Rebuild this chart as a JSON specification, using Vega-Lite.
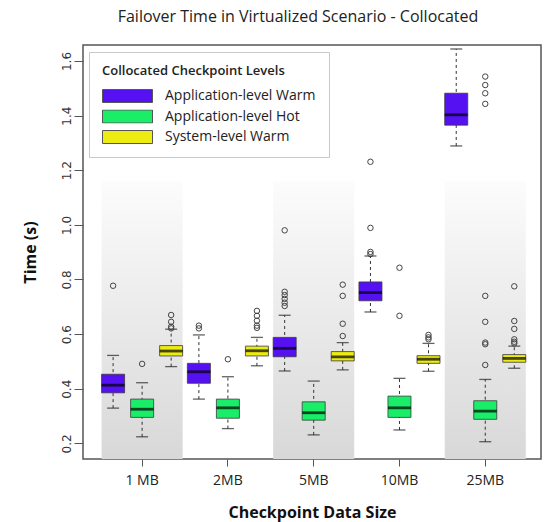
{
  "$schema": "https://vega.github.io/schema/vega-lite/v6.json",
  "width": 458,
  "height": 414,
  "autosize": {"type": "none"},
  "padding": {"left": 83, "top": 45, "right": 5, "bottom": 63},
  "title": {"text": "Failover Time in Virtualized Scenario - Collocated", "font": "Open Sans", "fontSize": 16, "fontWeight": 500, "color": "#222", "anchor": "middle", "dx": -14, "offset": 7, "baseline": "alphabetic"},
  "datasets": {
    "bands": [{"size": "1 MB"}, {"size": "5MB"}, {"size": "25MB"}],
    "stats": [
      {"size": "1 MB", "level": "Application-level Warm", "lo": 0.329, "q1": 0.385, "med": 0.413, "q3": 0.453, "hi": 0.522},
      {"size": "1 MB", "level": "Application-level Hot", "lo": 0.224, "q1": 0.295, "med": 0.325, "q3": 0.362, "hi": 0.422},
      {"size": "1 MB", "level": "System-level Warm", "lo": 0.481, "q1": 0.520, "med": 0.538, "q3": 0.558, "hi": 0.618},
      {"size": "2MB", "level": "Application-level Warm", "lo": 0.362, "q1": 0.420, "med": 0.462, "q3": 0.493, "hi": 0.597},
      {"size": "2MB", "level": "Application-level Hot", "lo": 0.254, "q1": 0.292, "med": 0.330, "q3": 0.362, "hi": 0.444},
      {"size": "2MB", "level": "System-level Warm", "lo": 0.484, "q1": 0.520, "med": 0.539, "q3": 0.556, "hi": 0.588},
      {"size": "5MB", "level": "Application-level Warm", "lo": 0.465, "q1": 0.517, "med": 0.548, "q3": 0.588, "hi": 0.669},
      {"size": "5MB", "level": "Application-level Hot", "lo": 0.231, "q1": 0.285, "med": 0.312, "q3": 0.352, "hi": 0.428},
      {"size": "5MB", "level": "System-level Warm", "lo": 0.469, "q1": 0.502, "med": 0.517, "q3": 0.536, "hi": 0.569},
      {"size": "10MB", "level": "Application-level Warm", "lo": 0.681, "q1": 0.722, "med": 0.752, "q3": 0.791, "hi": 0.886},
      {"size": "10MB", "level": "Application-level Hot", "lo": 0.249, "q1": 0.295, "med": 0.330, "q3": 0.373, "hi": 0.438},
      {"size": "10MB", "level": "System-level Warm", "lo": 0.464, "q1": 0.493, "med": 0.508, "q3": 0.521, "hi": 0.566},
      {"size": "25MB", "level": "Application-level Warm", "lo": 1.289, "q1": 1.365, "med": 1.403, "q3": 1.482, "hi": 1.644},
      {"size": "25MB", "level": "Application-level Hot", "lo": 0.206, "q1": 0.288, "med": 0.318, "q3": 0.356, "hi": 0.434},
      {"size": "25MB", "level": "System-level Warm", "lo": 0.475, "q1": 0.497, "med": 0.511, "q3": 0.525, "hi": 0.556}
    ],
    "outliers": [
      {"size": "1 MB", "level": "Application-level Warm", "t": 0.777},
      {"size": "1 MB", "level": "Application-level Hot", "t": 0.491},
      {"size": "1 MB", "level": "System-level Warm", "t": 0.670},
      {"size": "1 MB", "level": "System-level Warm", "t": 0.645},
      {"size": "1 MB", "level": "System-level Warm", "t": 0.627},
      {"size": "1 MB", "level": "System-level Warm", "t": 0.621},
      {"size": "2MB", "level": "Application-level Warm", "t": 0.631},
      {"size": "2MB", "level": "Application-level Warm", "t": 0.621},
      {"size": "2MB", "level": "Application-level Hot", "t": 0.508},
      {"size": "2MB", "level": "System-level Warm", "t": 0.685},
      {"size": "2MB", "level": "System-level Warm", "t": 0.667},
      {"size": "2MB", "level": "System-level Warm", "t": 0.649},
      {"size": "2MB", "level": "System-level Warm", "t": 0.631},
      {"size": "2MB", "level": "System-level Warm", "t": 0.623},
      {"size": "5MB", "level": "Application-level Warm", "t": 0.980},
      {"size": "5MB", "level": "Application-level Warm", "t": 0.755},
      {"size": "5MB", "level": "Application-level Warm", "t": 0.743},
      {"size": "5MB", "level": "Application-level Warm", "t": 0.729},
      {"size": "5MB", "level": "Application-level Warm", "t": 0.715},
      {"size": "5MB", "level": "Application-level Warm", "t": 0.703},
      {"size": "5MB", "level": "System-level Warm", "t": 0.781},
      {"size": "5MB", "level": "System-level Warm", "t": 0.740},
      {"size": "5MB", "level": "System-level Warm", "t": 0.638},
      {"size": "5MB", "level": "System-level Warm", "t": 0.593},
      {"size": "10MB", "level": "Application-level Warm", "t": 1.231},
      {"size": "10MB", "level": "Application-level Warm", "t": 0.989},
      {"size": "10MB", "level": "Application-level Warm", "t": 0.901},
      {"size": "10MB", "level": "Application-level Warm", "t": 0.893},
      {"size": "10MB", "level": "Application-level Hot", "t": 0.843},
      {"size": "10MB", "level": "Application-level Hot", "t": 0.667},
      {"size": "10MB", "level": "System-level Warm", "t": 0.597},
      {"size": "10MB", "level": "System-level Warm", "t": 0.588},
      {"size": "10MB", "level": "System-level Warm", "t": 0.581},
      {"size": "25MB", "level": "Application-level Hot", "t": 1.543},
      {"size": "25MB", "level": "Application-level Hot", "t": 1.512},
      {"size": "25MB", "level": "Application-level Hot", "t": 1.482},
      {"size": "25MB", "level": "Application-level Hot", "t": 1.443},
      {"size": "25MB", "level": "Application-level Hot", "t": 0.740},
      {"size": "25MB", "level": "Application-level Hot", "t": 0.645},
      {"size": "25MB", "level": "Application-level Hot", "t": 0.569},
      {"size": "25MB", "level": "Application-level Hot", "t": 0.563},
      {"size": "25MB", "level": "Application-level Hot", "t": 0.487},
      {"size": "25MB", "level": "System-level Warm", "t": 0.775},
      {"size": "25MB", "level": "System-level Warm", "t": 0.648},
      {"size": "25MB", "level": "System-level Warm", "t": 0.619},
      {"size": "25MB", "level": "System-level Warm", "t": 0.581},
      {"size": "25MB", "level": "System-level Warm", "t": 0.572},
      {"size": "25MB", "level": "System-level Warm", "t": 0.566}
    ]
  },
  "encoding": {
    "x": {
      "field": "size", "type": "nominal", "title": "Checkpoint Data Size",
      "scale": {"domain": ["1 MB", "2MB", "5MB", "10MB", "25MB"], "paddingInner": 0.055, "paddingOuter": 0.197, "align": 0.55},
      "axis": {"labelAngle": 0, "tickSize": 7, "labelPadding": 7, "labelFont": "Open Sans", "labelFontSize": 14, "labelColor": "#222", "titleFont": "Open Sans", "titleFontSize": 16, "titleFontWeight": "bold", "titleColor": "#111", "titlePadding": 17, "tickColor": "#555", "domain": false}
    }
  },
  "layer": [
    {
      "data": {"name": "bands"},
      "mark": {"type": "rect", "fill": {"gradient": "linear", "x1": 0, "y1": 0, "x2": 0, "y2": 1, "stops": [{"offset": 0, "color": "#fcfcfc"}, {"offset": 1, "color": "#d8d8d8"}]}},
      "encoding": {
        "y": {"datum": 1.16, "type": "quantitative", "title": "Time (s)", "scale": {"domain": [0.1427, 1.6586], "nice": false, "zero": false}},
        "y2": {"datum": 0.1427}
      }
    },
    {
      "data": {"name": "stats"},
      "mark": {"type": "rule", "strokeDash": [3, 3], "color": "#333", "strokeWidth": 1},
      "encoding": {
        "xOffset": {"field": "level", "type": "nominal", "scale": {"domain": ["Application-level Warm", "Application-level Hot", "System-level Warm"], "paddingInner": 0.207, "paddingOuter": 0}},
        "y": {"field": "lo", "type": "quantitative", "title": "Time (s)", "scale": {"domain": [0.1427, 1.6586], "nice": false, "zero": false}},
        "y2": {"field": "hi"}
      }
    },
    {
      "data": {"name": "stats"},
      "mark": {"type": "tick", "color": "#222", "size": 12, "thickness": 1.3},
      "encoding": {
        "xOffset": {"field": "level", "type": "nominal"},
        "y": {"field": "lo", "type": "quantitative", "title": "Time (s)"}
      }
    },
    {
      "data": {"name": "stats"},
      "mark": {"type": "tick", "color": "#222", "size": 12, "thickness": 1.3},
      "encoding": {
        "xOffset": {"field": "level", "type": "nominal"},
        "y": {"field": "hi", "type": "quantitative", "title": "Time (s)"}
      }
    },
    {
      "data": {"name": "stats"},
      "mark": {"type": "bar", "stroke": "#3a3a3a", "strokeWidth": 0.8, "opacity": 1},
      "encoding": {
        "xOffset": {"field": "level", "type": "nominal"},
        "y": {"field": "q1", "type": "quantitative", "title": "Time (s)",
          "axis": {"values": [0.2, 0.4, 0.6, 0.8, 1.0, 1.2, 1.4, 1.6], "format": ".1f", "labelAngle": 270, "labelAlign": "center", "labelBaseline": "alphabetic", "labelFont": "DejaVu Sans", "labelFontSize": 12, "labelColor": "#333", "tickSize": 9, "labelPadding": 4, "tickColor": "#555", "domain": false, "grid": false, "titleFont": "Open Sans", "titleFontSize": 16, "titleFontWeight": "bold", "titleColor": "#111", "titlePadding": 22}},
        "y2": {"field": "q3"},
        "fill": {"field": "level", "type": "nominal", "title": "Collocated Checkpoint Levels",
          "scale": {"domain": ["Application-level Warm", "Application-level Hot", "System-level Warm"], "range": ["#5511f2", "#1aee68", "#ecec12"]}}
      }
    },
    {
      "data": {"name": "stats"},
      "mark": {"type": "tick", "color": "#000", "size": 23, "thickness": 2.8},
      "encoding": {
        "xOffset": {"field": "level", "type": "nominal"},
        "y": {"field": "med", "type": "quantitative", "title": "Time (s)"}
      }
    },
    {
      "data": {"name": "outliers"},
      "mark": {"type": "point", "filled": false, "color": "#444", "size": 30, "strokeWidth": 1, "opacity": 1},
      "encoding": {
        "xOffset": {"field": "level", "type": "nominal"},
        "y": {"field": "t", "type": "quantitative", "title": "Time (s)"}
      }
    }
  ],
  "config": {
    "view": {"stroke": "#555", "strokeWidth": 1.5},
    "axis": {"grid": false},
    "legend": {
      "orient": "none", "legendX": 6, "legendY": 7,
      "padding": 13, "strokeColor": "#c8c8c8", "fillColor": "white",
      "titleFont": "Open Sans", "titleFontSize": 13, "titleFontWeight": 600, "titleColor": "#222", "titlePadding": 11, "titleLimit": 400,
      "labelFont": "Open Sans", "labelFontSize": 14, "labelColor": "#222", "labelOffset": 12, "labelLimit": 400,
      "symbolType": "M-1,-0.26H1V0.26H-1Z", "symbolSize": 2500, "symbolStrokeColor": "#555", "symbolStrokeWidth": 1, "symbolOpacity": 1,
      "clipHeight": 14, "rowPadding": 6.5
    }
  }
}
